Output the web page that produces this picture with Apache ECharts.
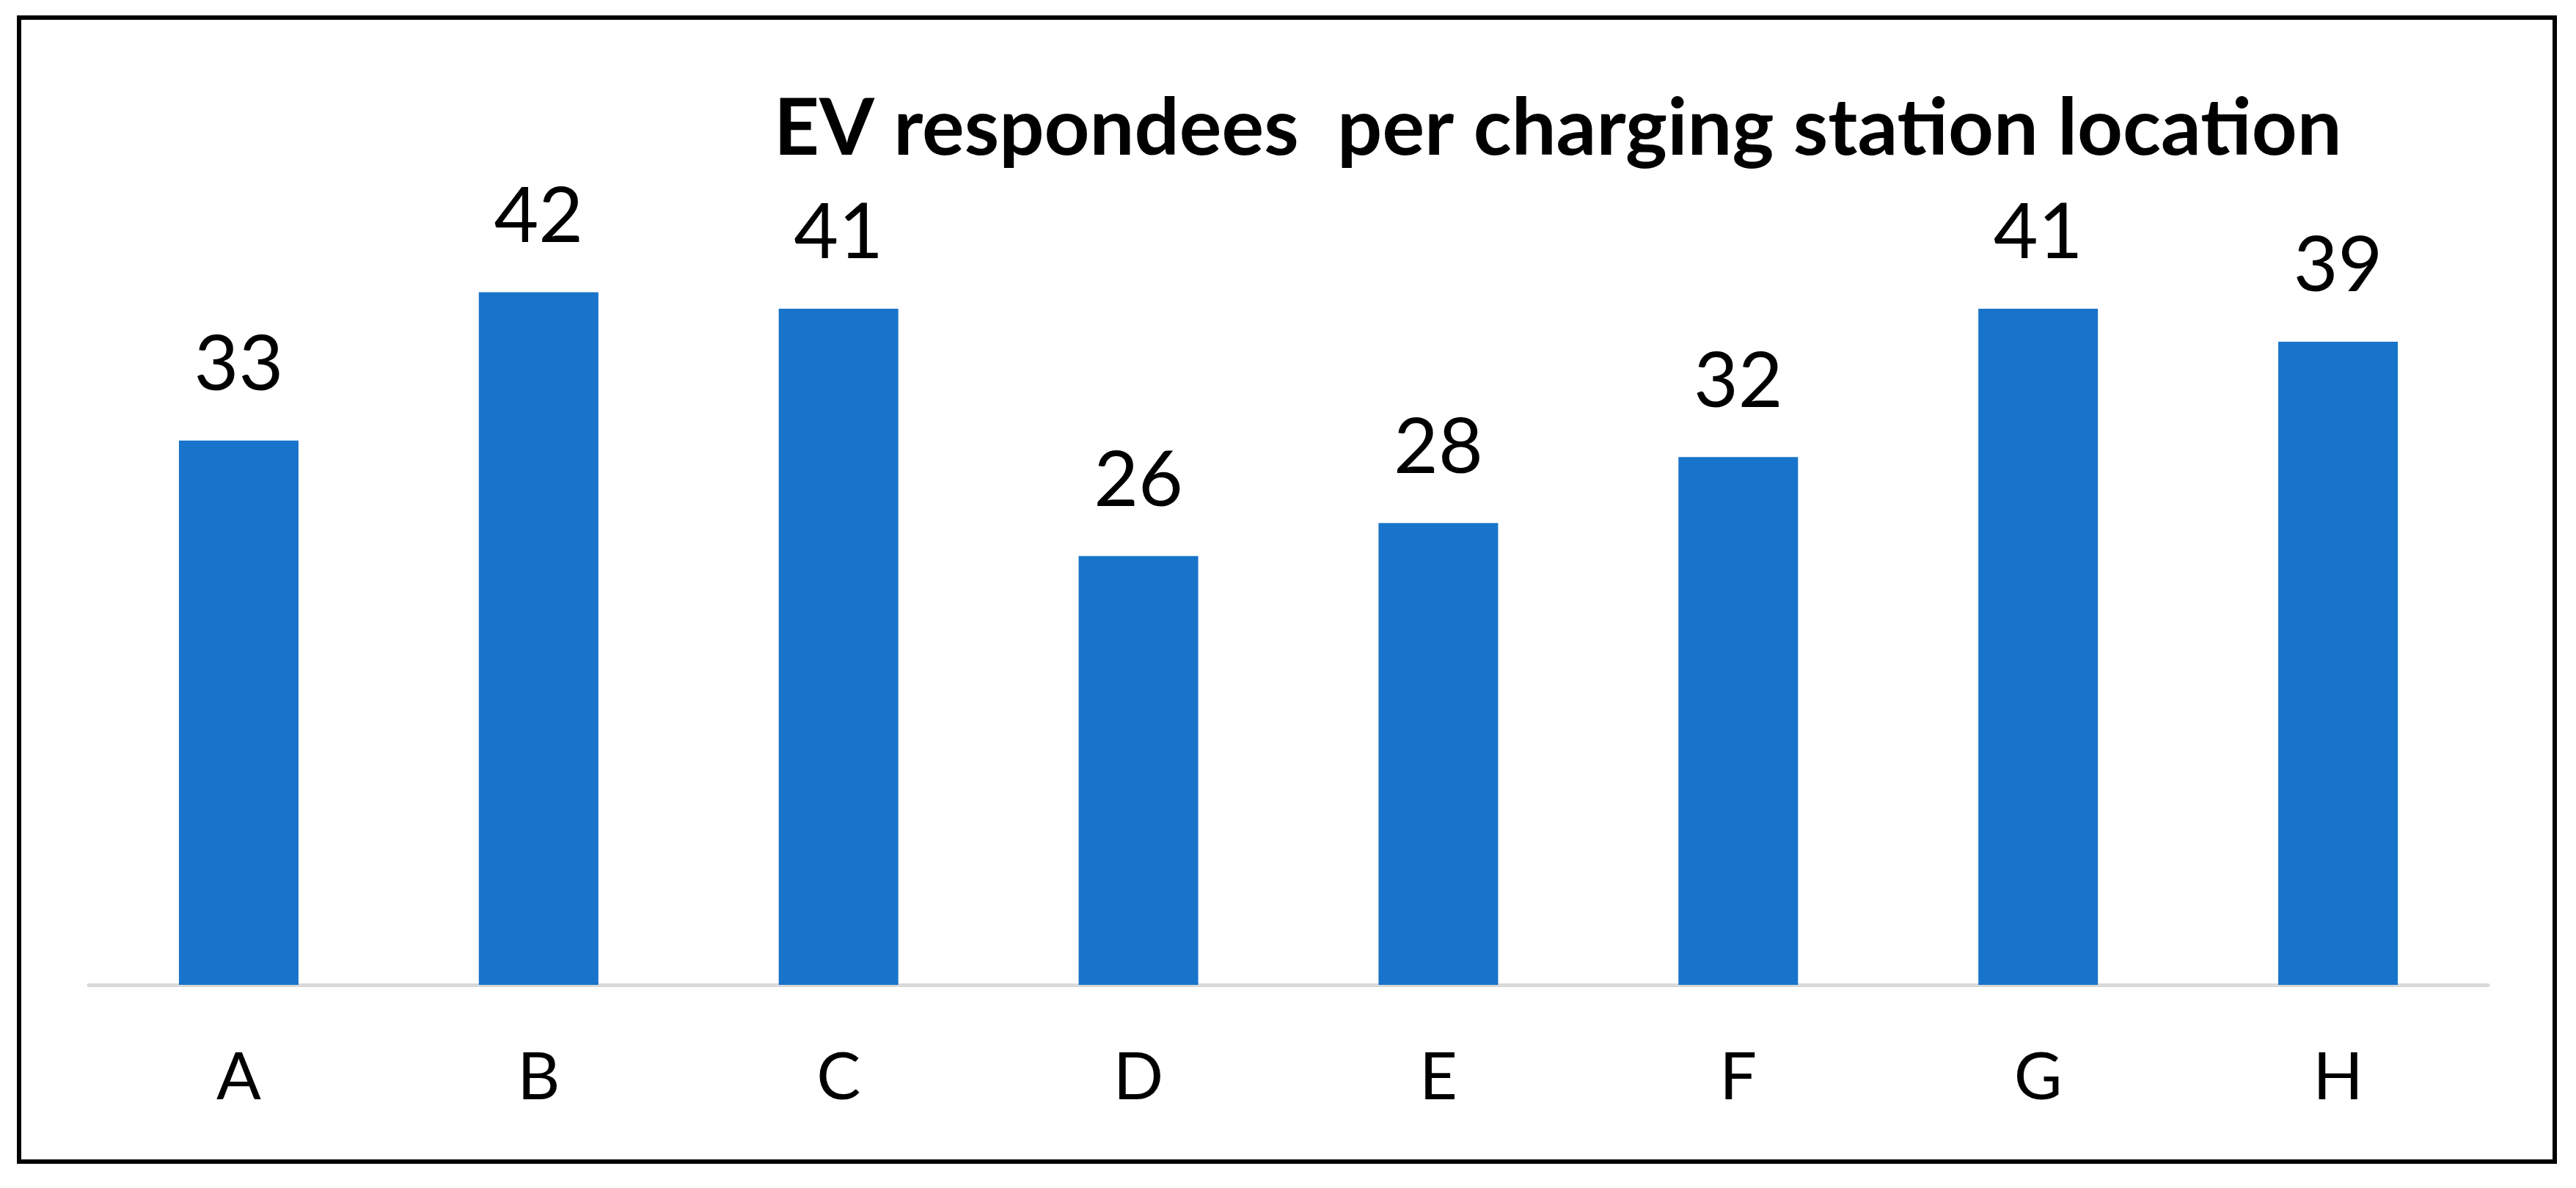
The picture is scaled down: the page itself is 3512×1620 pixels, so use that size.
<!DOCTYPE html>
<html>
<head>
<meta charset="utf-8">
<style>
html,body{margin:0;padding:0;background:#fff;}
#chart{width:3512px;height:1620px;}
</style>
<script src="https://cdn.jsdelivr.net/npm/echarts@6/dist/echarts.min.js"></script>
</head>
<body>
<div id="chart"></div>
<script>
const titleText = 'EV respondees  per charging station location';
const categories = ['A', 'B', 'C', 'D', 'E', 'F', 'G', 'H'];
const respondees = [33, 42, 41, 26, 28, 32, 41, 39];

const chart = echarts.init(document.getElementById('chart'), null, {renderer: 'canvas'});
chart.setOption({
  backgroundColor: '#ffffff',
  animation: false,
  title: {
    text: titleText,
    left: 1055,
    top: 122,
    padding: 0,
    textStyle: {fontFamily: 'Lato', fontWeight: 'bold', fontSize: 108, color: '#000000'}
  },
  grid: {left: 121, right: 120, top: 331, bottom: 277, containLabel: false},
  xAxis: {
    type: 'category',
    data: categories,
    axisLine: {show: true, lineStyle: {color: '#d9d9d9', width: 5}},
    axisTick: {show: false},
    axisLabel: {margin: 82, fontFamily: 'Lato', fontSize: 90, color: '#000000'}
  },
  yAxis: {
    type: 'value',
    min: 0,
    max: 45,
    interval: 5,
    show: false,
    splitLine: {show: false}
  },
  series: [{
    type: 'bar',
    data: respondees,
    barWidth: 163,
    itemStyle: {color: '#1874ca'},
    label: {show: true, position: 'top', distance: 50, fontFamily: 'Lato', fontSize: 105, color: '#000000'}
  }],
  graphic: [{
    type: 'rect',
    shape: {x: 26, y: 24, width: 3457, height: 1560},
    style: {fill: 'none', stroke: '#000000', lineWidth: 6},
    silent: true
  }]
});
</script>
</body>
</html>
